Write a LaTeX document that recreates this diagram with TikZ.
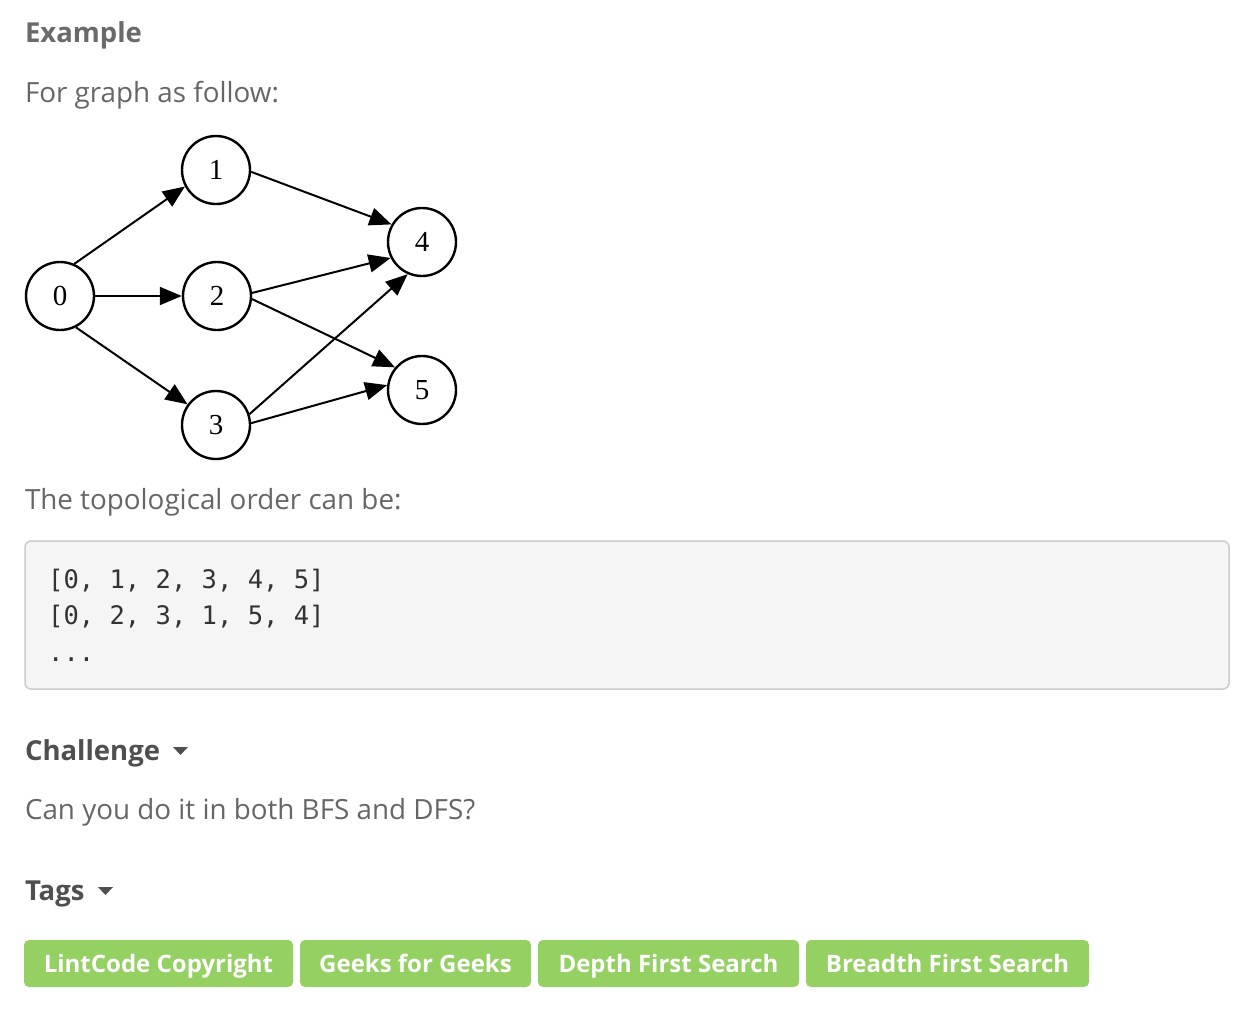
\documentclass[tikz,border=0pt]{standalone}
\usepackage{fontspec}
\setmainfont{Open Sans}
\newfontfamily\codefont{DejaVu Sans Mono}
\newfontfamily\graphfont{Liberation Serif}
\usetikzlibrary{arrows.meta}
\definecolor{bodygray}{HTML}{666666}
\definecolor{headgray}{HTML}{4F4F4F}
\definecolor{examplegray}{HTML}{6A6A6A}
\definecolor{codebg}{HTML}{F5F5F5}
\definecolor{codeborder}{HTML}{CCCCCC}
\definecolor{codetext}{HTML}{333333}
\definecolor{taggreen}{HTML}{94D162}
\tikzset{
  txt/.style={anchor=base west, inner sep=0pt, outer sep=0pt, font=\fontsize{27.8}{32}\selectfont, text=bodygray},
  head/.style={txt, font=\fontsize{27.5}{32}\selectfont\bfseries, text=headgray},
  vertex/.style={circle, draw=black, line width=2.4pt, minimum size=68pt, inner sep=0pt, font=\graphfont\fontsize{29}{29}\selectfont, fill=white},
  edge/.style={line width=2pt, -{Triangle[length=22pt,width=18pt]}},
  tagbox/.style={rectangle, rounded corners=5pt, fill=taggreen, minimum height=47pt, inner sep=0pt},
  tagtext/.style={anchor=base, inner sep=0pt, text=white, font=\fontsize{24}{28}\selectfont\bfseries},
  caret/.style={fill=headgray, draw=none},
  codeline/.style={anchor=base west, inner sep=0pt, font=\codefont\fontsize{25.5}{30}\selectfont, text=codetext}
}
\begin{document}
\begin{tikzpicture}[x=1pt,y=-1pt]
\useasboundingbox[fill=white] (0,0) rectangle (1256,1012);

\node[head, text=examplegray] (example) at (25,42) {Example};
\node[txt] (forgraph) at (25,102) {For graph as follow:};

% graph
\node[vertex] (n0) at (60,296) {0};
\node[vertex] (n1) at (216,170) {1};
\node[vertex] (n2) at (217,296) {2};
\node[vertex] (n3) at (216,425) {3};
\node[vertex] (n4) at (422,242) {4};
\node[vertex] (n5) at (422,390) {5};

\draw[edge] (n0.66) -- (n1.208);
\draw[edge] (n0.east) -- (n2.west);
\draw[edge] (n0.297) -- (n3.144);
\draw[edge] (n1.-3) -- (n4.150);
\draw[edge] (n2.5) -- (n4.207);
\draw[edge] (n2.-5) -- (n5.140);
\draw[edge] (n3.18) -- (n4.246);
\draw[edge] (n3.3) -- (n5.172);

\node[txt] (topo) at (25,509) {The topological order can be:};

\node[draw=codeborder, fill=codebg, line width=1.5pt, rounded corners=6pt, minimum width=1204pt, minimum height=148pt, inner sep=0pt] (codebox) at (627,615) {};
\node[codeline] (c1) at (48,588) {[0, 1, 2, 3, 4, 5]};
\node[codeline] (c2) at (48,624) {[0, 2, 3, 1, 5, 4]};
\node[codeline] (c3) at (48,661) {...};

\node[head] (challenge) at (25,760) {Challenge};
\fill[caret] (173,747) -- (188,747) -- (180.5,755) -- cycle;
\node[txt] (question) at (25,819) {Can you do it in both BFS and DFS?};

\node[head] (tags) at (25,900) {Tags};
\fill[caret] (98,887) -- (113,887) -- (105.5,895) -- cycle;

\node[tagbox, minimum width=269pt] (t1) at (158.5,963.5) {};
\node[tagbox, minimum width=231pt] (t2) at (415.5,963.5) {};
\node[tagbox, minimum width=261pt] (t3) at (668.5,963.5) {};
\node[tagbox, minimum width=283pt] (t4) at (947.5,963.5) {};
\node[tagtext] (l1) at (158.5,972) {LintCode Copyright};
\node[tagtext] (l2) at (415.5,972) {Geeks for Geeks};
\node[tagtext] (l3) at (668.5,972) {Depth First Search};
\node[tagtext] (l4) at (947.5,972) {Breadth First Search};
\end{tikzpicture}
\end{document}
